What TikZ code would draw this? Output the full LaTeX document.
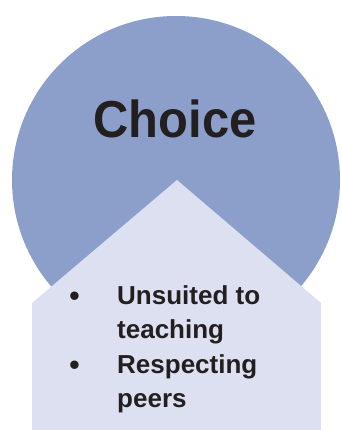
\documentclass[tikz,border=0pt]{standalone}
\usepackage{fontspec}
\setmainfont{Liberation Sans}
\definecolor{circblue}{HTML}{8C9FCA}
\definecolor{boxblue}{HTML}{DCE0F0}
\definecolor{ink}{HTML}{231F20}
\begin{document}
\begin{tikzpicture}[x=1pt,y=1pt,
  titletext/.style={font=\fontsize{52}{60}\selectfont\bfseries, text=ink, inner sep=0pt, xscale=0.94},
  itemtext/.style={font=\fontsize{26}{30}\selectfont\bfseries, text=ink, inner sep=0pt},
  bullettext/.style={font=\fontsize{31}{34}\selectfont, text=ink, inner sep=0pt}]
\useasboundingbox (0,0) rectangle (340,430);
\fill[circblue] (176,250) circle[radius=164];
\fill[boxblue] (32,0) -- (32,127) -- (177,250) -- (321,127) -- (321,0) -- cycle;
\node[titletext, anchor=base] (title) at (175,292.5) {Choice};
\node[bullettext, anchor=base] (b1) at (74.5,123.5) {•};
\node[itemtext, anchor=base west] (l1) at (117,125) {Unsuited to};
\node[itemtext, anchor=base west] (l2) at (117,91) {teaching};
\node[bullettext, anchor=base] (b2) at (74.5,54.5) {•};
\node[itemtext, anchor=base west] (l3) at (117,56) {Respecting};
\node[itemtext, anchor=base west] (l4) at (117,22) {peers};
\end{tikzpicture}
\end{document}
